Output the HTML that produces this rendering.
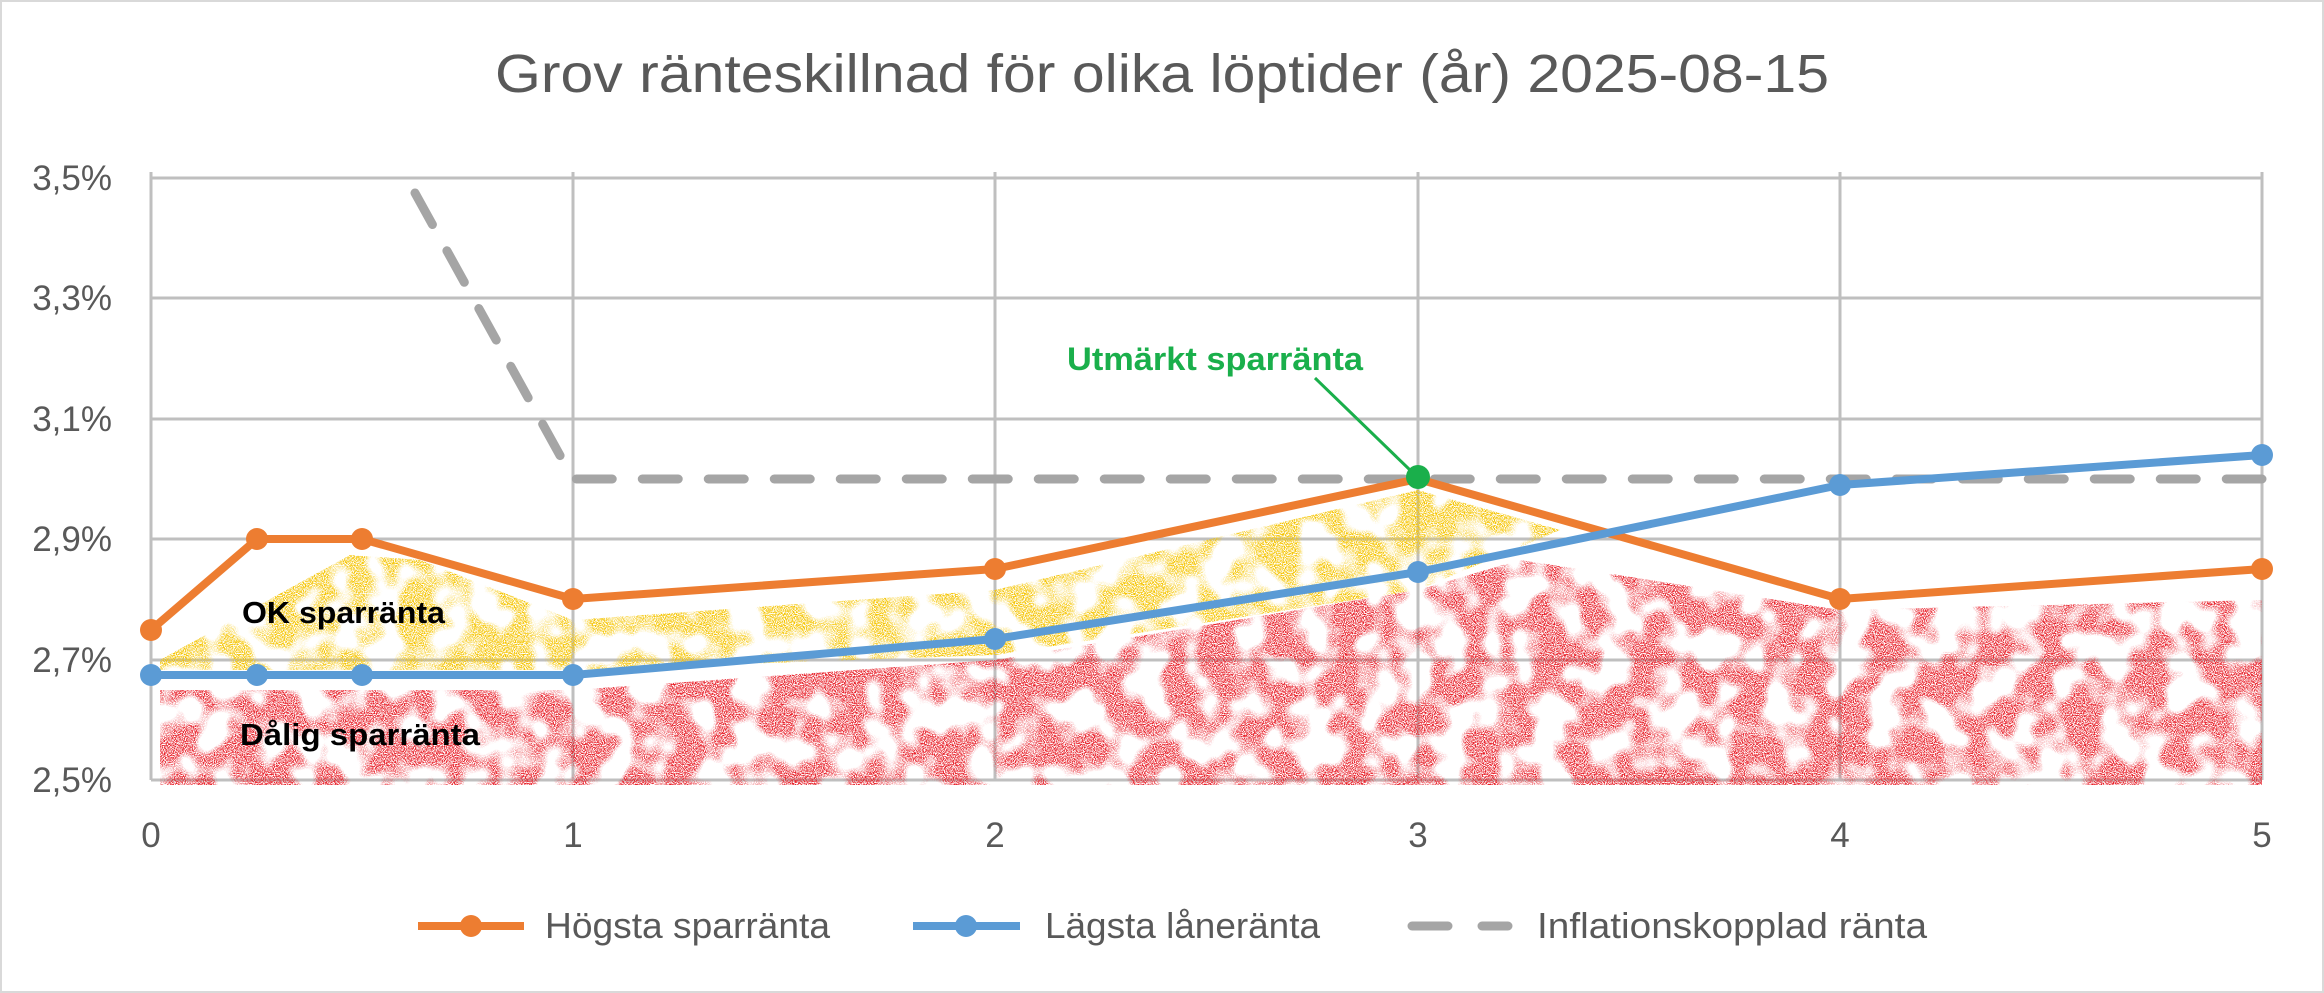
<!DOCTYPE html>
<html><head><meta charset="utf-8"><style>html,body{margin:0;padding:0;background:#fff}svg{display:block}</style></head>
<body>
<svg width="2324" height="993" viewBox="0 0 2324 993" xmlns="http://www.w3.org/2000/svg" font-family="'Liberation Sans', sans-serif">
<defs>
<filter id="spk" x="0" y="0" width="100%" height="100%">
<feTurbulence type="fractalNoise" baseFrequency="0.03" numOctaves="2" seed="3" result="n1"/>
<feColorMatrix in="n1" type="matrix" values="0 0 0 0 0  0 0 0 0 0  0 0 0 0 0  6 0 0 0 -2.4" result="m1"/>
<feTurbulence type="fractalNoise" baseFrequency="0.9" numOctaves="1" seed="7" result="n2"/>
<feColorMatrix in="n2" type="matrix" values="0 0 0 0 0  0 0 0 0 0  0 0 0 0 0  5 0 0 0 -2.0" result="m2"/>
<feComposite in="m1" in2="m2" operator="arithmetic" k1="1" k2="0" k3="0" k4="0" result="mask"/>
<feComposite in="SourceGraphic" in2="mask" operator="in"/>
</filter>
</defs>
<rect x="1" y="1" width="2322" height="991" fill="#fff" stroke="#d9d9d9" stroke-width="2"/>
<text x="1162" y="92" text-anchor="middle" font-size="54" fill="#595959" textLength="1334" lengthAdjust="spacingAndGlyphs">Grov ränteskillnad för olika löptider (år) 2025-08-15</text>
<!-- grid -->
<g stroke="#bfbfbf" stroke-width="3">
<line x1="151" y1="178" x2="2262" y2="178"/><line x1="151" y1="298" x2="2262" y2="298"/>
<line x1="151" y1="419" x2="2262" y2="419"/><line x1="151" y1="539" x2="2262" y2="539"/>
<line x1="151" y1="660" x2="2262" y2="660"/><line x1="151" y1="780" x2="2262" y2="780"/>
<line x1="151" y1="172" x2="151" y2="780"/><line x1="573" y1="172" x2="573" y2="780"/>
<line x1="995" y1="172" x2="995" y2="780"/><line x1="1418" y1="172" x2="1418" y2="780"/>
<line x1="1840" y1="172" x2="1840" y2="780"/><line x1="2262" y1="172" x2="2262" y2="780"/>
</g>
<!-- speckle regions -->
<path filter="url(#spk)" fill="#e8202a" d="M160 690 L573 690 L995 660 L1418 590 L1520 560 L1650 580 L1840 610 L2262 600 L2262 785 L160 785 Z"/>
<path filter="url(#spk)" fill="#f5c400" d="M160 660 L350 555 L420 560 L573 620 L995 590 L1418 490 L1560 530 L1418 590 L995 655 L573 670 L160 670 Z"/>
<!-- axis labels -->
<g font-size="35" fill="#595959" text-anchor="end">
<text x="112" y="190">3,5%</text><text x="112" y="310">3,3%</text><text x="112" y="431">3,1%</text>
<text x="112" y="551">2,9%</text><text x="112" y="672">2,7%</text><text x="112" y="792">2,5%</text>
</g>
<g font-size="35" fill="#595959" text-anchor="middle">
<text x="151" y="847">0</text><text x="573" y="847">1</text><text x="995" y="847">2</text>
<text x="1418" y="847">3</text><text x="1840" y="847">4</text><text x="2262" y="847">5</text>
</g>
<!-- dashed -->
<polyline points="415,193 573,479 2262,479" fill="none" stroke="#a5a5a5" stroke-width="9" stroke-dasharray="36,30" stroke-linecap="round"/>
<!-- orange -->
<polyline points="151,630 257,539 362,539 573,599 995,569 1418,479 1840,599 2262,569" fill="none" stroke="#ed7d31" stroke-width="8" stroke-linejoin="round"/>
<g fill="#ed7d31"><circle cx="151" cy="630" r="11"/><circle cx="257" cy="539" r="11"/><circle cx="362" cy="539" r="11"/><circle cx="573" cy="599" r="11"/><circle cx="995" cy="569" r="11"/><circle cx="1840" cy="599" r="11"/><circle cx="2262" cy="569" r="11"/></g>
<!-- blue -->
<polyline points="151,675 257,675 362,675 573,675 995,639 1418,572 1840,485 2262,455" fill="none" stroke="#5b9bd5" stroke-width="8" stroke-linejoin="round"/>
<g fill="#5b9bd5"><circle cx="151" cy="675" r="11"/><circle cx="257" cy="675" r="11"/><circle cx="362" cy="675" r="11"/><circle cx="573" cy="675" r="11"/><circle cx="995" cy="639" r="11"/><circle cx="1418" cy="572" r="11"/><circle cx="1840" cy="485" r="11"/><circle cx="2262" cy="455" r="11"/></g>
<!-- annotation -->
<line x1="1315" y1="378" x2="1410" y2="470" stroke="#1aaf4b" stroke-width="3"/>
<circle cx="1418" cy="477" r="12" fill="#1aaf4b"/>
<text x="1215" y="370" text-anchor="middle" font-size="32" font-weight="bold" fill="#1aaf4b" textLength="296" lengthAdjust="spacingAndGlyphs">Utmärkt sparränta</text>
<text x="242" y="623" font-size="31" font-weight="bold" fill="#000" textLength="203" lengthAdjust="spacingAndGlyphs">OK sparränta</text>
<text x="240" y="745" font-size="31" font-weight="bold" fill="#000" textLength="240" lengthAdjust="spacingAndGlyphs">Dålig sparränta</text>
<!-- legend -->
<line x1="418" y1="926" x2="524" y2="926" stroke="#ed7d31" stroke-width="8"/><circle cx="471" cy="926" r="11" fill="#ed7d31"/>
<text x="545" y="938" font-size="36" fill="#595959" textLength="285" lengthAdjust="spacingAndGlyphs">Högsta sparränta</text>
<line x1="913" y1="926" x2="1020" y2="926" stroke="#5b9bd5" stroke-width="8"/><circle cx="966" cy="926" r="11" fill="#5b9bd5"/>
<text x="1045" y="938" font-size="36" fill="#595959" textLength="275" lengthAdjust="spacingAndGlyphs">Lägsta låneränta</text>
<line x1="1412" y1="926" x2="1508" y2="926" stroke="#a5a5a5" stroke-width="9" stroke-dasharray="36,34" stroke-linecap="round"/>
<text x="1537" y="938" font-size="36" fill="#595959" textLength="390" lengthAdjust="spacingAndGlyphs">Inflationskopplad ränta</text>
</svg>
</body></html>
